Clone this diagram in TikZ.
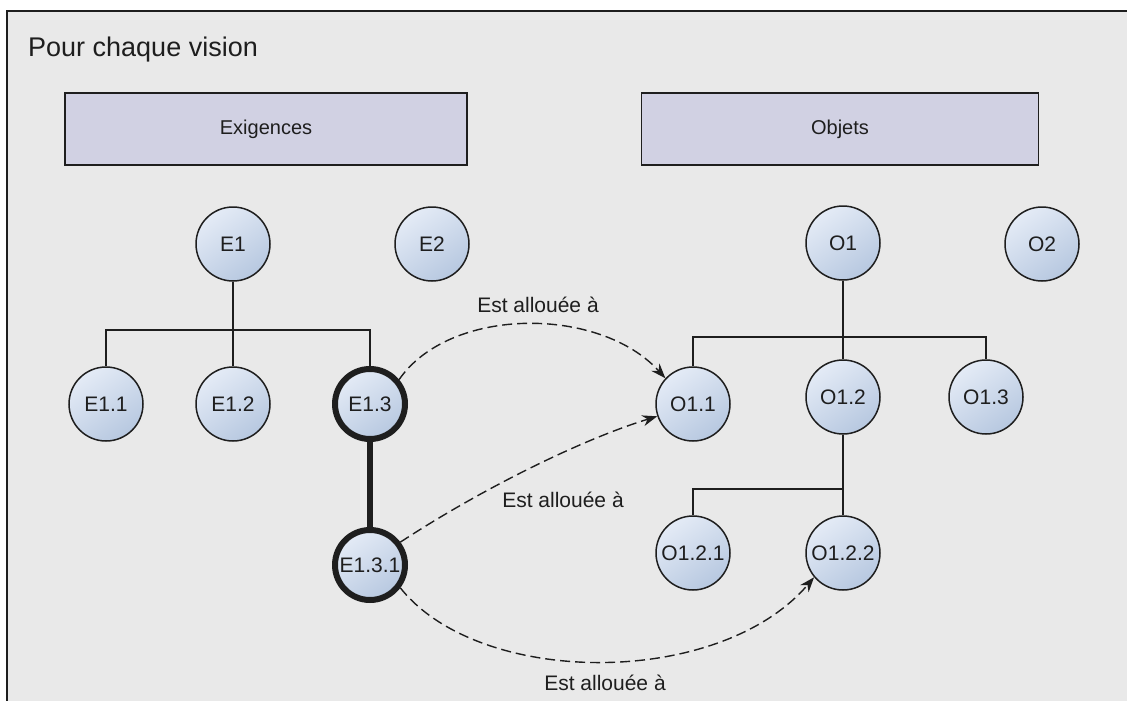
\documentclass[tikz,border=0pt]{standalone}
\usepackage{fontspec}
\setmainfont{Liberation Sans}
\usetikzlibrary{arrows.meta,calc}
\definecolor{bg}{HTML}{E9E9E9}
\definecolor{boxfill}{HTML}{D1D1E3}
\definecolor{nodetop}{HTML}{E4EBF6}
\definecolor{nodebot}{HTML}{B7C8E0}
\definecolor{ink}{HTML}{1E1E1E}
\tikzset{
  hdrbox/.style={draw=ink, line width=1.6pt, fill=boxfill, minimum width=402pt, minimum height=72pt, inner sep=0pt, font=\fontsize{20}{22}\selectfont, text=ink},
  circ/.style={circle, draw=ink, line width=1.5pt, top color=nodetop, bottom color=nodebot, shading angle=35, minimum size=74pt, inner sep=0pt, font=\fontsize{21}{23}\selectfont, text=ink},
  boldcirc/.style={circ, line width=6pt, minimum size=70pt},
  treeline/.style={draw=ink, line width=1.5pt},
  alloc/.style={draw=ink, line width=1.4pt, dash pattern=on 10pt off 5pt, -{Stealth[length=15pt,width=11pt]}},
  lbl/.style={font=\fontsize{21}{23}\selectfont, text=ink, inner sep=0pt}
}
\begin{document}
\begin{tikzpicture}[x=1pt,y=-1pt]
\useasboundingbox (0,0) rectangle (1127,701);
\fill[white] (0,0) rectangle (1127,701);
\draw[fill=bg, draw=ink, line width=1.8pt] (7,11) rectangle (1140,720);
\node[anchor=west, font=\fontsize{27}{30}\selectfont, text=ink, inner sep=0pt] (title) at (28,50) {Pour chaque vision};
\node[hdrbox] (exig) at (266,129) {Exigences};
\node[hdrbox, minimum width=397pt] (obj) at (840,129) {Objets};
% Exigences tree
\node[circ] (E1) at (233,244) {E1};
\node[circ] (E2) at (432,244) {E2};
\node[circ] (E11) at (106,404) {E1.1};
\node[circ] (E12) at (233,404) {E1.2};
\node[boldcirc] (E13) at (370,404) {E1.3};
\node[boldcirc] (E131) at (370,565) {E1.3.1};
\coordinate (busE) at (233,330);
\draw[treeline, line width=2pt] (E1.south) -- (busE);
\draw[treeline] (busE) -| (E11.north);
\draw[treeline] (busE) -- (E12.north);
\draw[treeline] (busE) -| (E13.north);
\draw[draw=ink, line width=6pt] (E13.south) -- (E131.north);
% Objets tree
\node[circ] (O1) at (843,243) {O1};
\node[circ] (O2) at (1042,244) {O2};
\node[circ] (O11) at (693,404) {O1.1};
\node[circ] (O12) at (843,397) {O1.2};
\node[circ] (O13) at (986,397) {O1.3};
\node[circ] (O121) at (693,553) {O1.2.1};
\node[circ] (O122) at (843,553) {O1.2.2};
\coordinate (busO) at (843,337);
\coordinate (busO2) at (843,489);
\draw[treeline, line width=2pt] (O1.south) -- (busO);
\draw[treeline] (busO) -| (O11.north);
\draw[treeline] (busO) -- (O12.north);
\draw[treeline] (busO) -| (O13.north);
\draw[treeline] (O12.south) -- (busO2);
\draw[treeline] (busO2) -| (O121.north);
\draw[treeline] (busO2) -- (O122.north);
% allocations
\draw[alloc] (E13.40) .. controls (450,306) and (600,306) .. (O11.137);
\draw[alloc] (E131.37) .. controls (480,490) and (580,440) .. (O11.199);
\draw[alloc] (E131.-37) .. controls (480,688) and (720,688) .. (O122.220);
\node[lbl] (l1) at (538,305) {Est allouée à};
\node[lbl] (l2) at (563,500) {Est allouée à};
\node[lbl] (l3) at (605,683) {Est allouée à};
\end{tikzpicture}
\end{document}
